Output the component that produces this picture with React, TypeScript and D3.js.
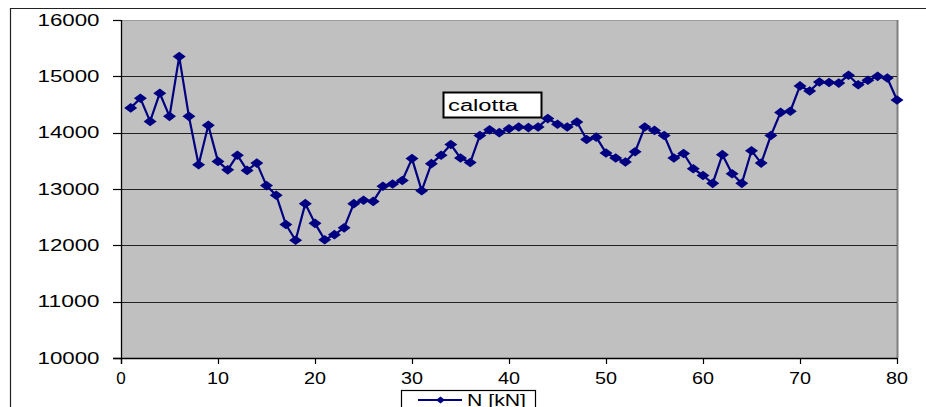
import React from "react";
import * as d3 from "d3";

const xValues: number[] = Array.from({ length: 80 }, (_, i) => i + 1);
const nValues: number[] = [
  14440, 14610, 14200, 14700, 14290, 15350, 14290, 13430, 14130, 13490,
  13340, 13600, 13330, 13460, 13060, 12890, 12370, 12090, 12740, 12390,
  12100, 12190, 12310, 12740, 12800, 12780, 13050, 13090, 13150, 13540,
  12970, 13450, 13600, 13790, 13550, 13470, 13950, 14050, 14000, 14070,
  14100, 14090, 14100, 14250, 14150, 14100, 14190, 13880, 13920, 13640,
  13550, 13480, 13660, 14100, 14040, 13950, 13550, 13630, 13360, 13240,
  13100, 13610, 13270, 13100, 13680, 13460, 13950, 14360, 14380, 14830,
  14740, 14900, 14890, 14880, 15020, 14850, 14930, 15000, 14970, 14580,
];
const xTicks: number[] = [0, 10, 20, 30, 40, 50, 60, 70, 80];
const yTicks: number[] = [10000, 11000, 12000, 13000, 14000, 15000, 16000];
const seriesName = "N [kN]";
const annotation = "calotta";

const W = 926;
const H = 407;
const FONT = "'Liberation Sans', Arial, sans-serif";
const NAVY = "#000080";

function diamond(cx: number, cy: number, hw = 6.5, hh = 4.8) {
  return `M${cx - hw},${cy}L${cx},${cy - hh}L${cx + hw},${cy}L${cx},${cy + hh}Z`;
}

export default function App() {
  const x = d3.scaleLinear().domain([0, 80]).range([121, 897]);
  const y = d3.scaleLinear().domain([10000, 16000]).range([358, 20]);
  const line = d3
    .line<number>()
    .x((_, i) => x(xValues[i]))
    .y((d) => y(d));

  const [x0, x1] = x.range();
  const [yb, yt] = y.range();

  const xLabelLen = (s: string) => (s.length === 1 ? 9.5 : 22);

  return (
    <svg
      width={W}
      height={H}
      style={{ position: "absolute", left: 0, top: 0, background: "#fff" }}
      fontFamily={FONT}
    >
      {/* chart area border */}
      <path d={`M10.5,${H}V8.5H${W}`} fill="none" stroke="#222" strokeWidth={1.2} />

      {/* plot area */}
      <rect x={x0} y={yt} width={x1 - x0} height={yb - yt} fill="#c0c0c0" />
      <line x1={x0} x2={x1} y1={yt + 0.5} y2={yt + 0.5} stroke="#9a9a9a" strokeWidth={1} />
      <line x1={x1 + 0.5} x2={x1 + 0.5} y1={yt} y2={yb} stroke="#7f7f7f" strokeWidth={2} />

      {/* gridlines */}
      {yTicks.slice(1, -1).map((t) => (
        <line key={t} x1={x0} x2={x1} y1={Math.round(y(t)) + 0.5} y2={Math.round(y(t)) + 0.5} stroke="#222" strokeWidth={1} />
      ))}

      {/* axes */}
      <line x1={x0 + 0.5} x2={x0 + 0.5} y1={yt} y2={yb + 6} stroke="#000" strokeWidth={1.3} />
      <line x1={x0 - 8} x2={x1} y1={yb + 0.5} y2={yb + 0.5} stroke="#000" strokeWidth={1.3} />
      {yTicks.map((t) => (
        <g key={t}>
          <line x1={x0 - 8} x2={x0} y1={Math.round(y(t)) + 0.5} y2={Math.round(y(t)) + 0.5} stroke="#000" strokeWidth={1.2} />
          <text
            x={99.5}
            y={y(t)}
            dy="0.36em"
            textAnchor="end"
            fontSize={16}
            textLength={62}
            lengthAdjust="spacingAndGlyphs"
            fill="#000"
          >
            {t}
          </text>
        </g>
      ))}
      {xTicks.map((t) => (
        <g key={t}>
          <line x1={Math.round(x(t)) + 0.5} x2={Math.round(x(t)) + 0.5} y1={yb} y2={yb + 6} stroke="#000" strokeWidth={1.2} />
          <text
            x={x(t)}
            y={384}
            textAnchor="middle"
            fontSize={16}
            textLength={xLabelLen(String(t))}
            lengthAdjust="spacingAndGlyphs"
            fill="#000"
          >
            {t}
          </text>
        </g>
      ))}

      {/* series */}
      <path d={line(nValues) ?? ""} fill="none" stroke={NAVY} strokeWidth={2.2} strokeLinejoin="round" />
      {nValues.map((v, i) => (
        <path key={i} d={diamond(x(xValues[i]), y(v))} fill={NAVY} />
      ))}

      {/* annotation */}
      <rect x={443.5} y={92.5} width={98} height={25} fill="#fff" stroke="#000" strokeWidth={2} />
      <text x={448} y={111} fontSize={16} textLength={70} lengthAdjust="spacingAndGlyphs" fill="#000">
        {annotation}
      </text>

      {/* legend */}
      <rect x={401.5} y={390.5} width={134} height={30} fill="#fff" stroke="#000" strokeWidth={1.2} />
      <line x1={418} x2={462} y1={400} y2={400} stroke={NAVY} strokeWidth={2} />
      <path d={diamond(440.5, 400, 4.5, 3.5)} fill={NAVY} />
      <text x={467} y={405.5} fontSize={16} textLength={59} lengthAdjust="spacingAndGlyphs" fill="#000">
        {seriesName}
      </text>
    </svg>
  );
}
